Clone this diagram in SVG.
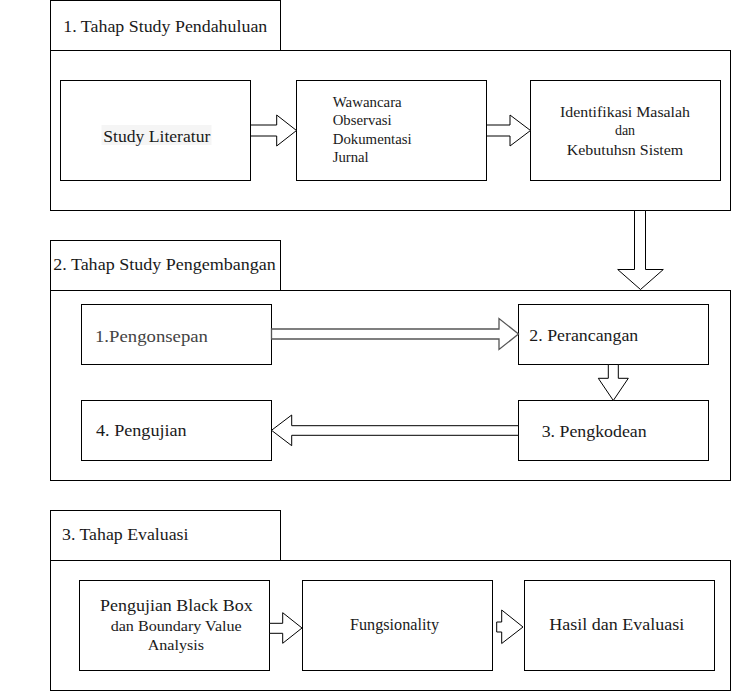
<svg xmlns="http://www.w3.org/2000/svg" width="731" height="691" viewBox="0 0 731 691">
<style>
.box{fill:#fff;stroke:#000;stroke-width:1}
.arr{fill:#fff;stroke:#000;stroke-width:1;stroke-linejoin:miter}
.t{fill:#1a1a1a}
.h{font-size:16.5px}
.m{font-size:16.5px}
.s{font-size:14px}
</style>
<rect x="0" y="0" width="731" height="691" fill="#fff"/>
<g font-family="'Liberation Serif', 'Times New Roman', serif">
<g id="stage1">
  <rect class="box" x="50.5" y="0.5" width="230" height="50"/>
  <rect class="box" x="50.5" y="50.5" width="680" height="160"/>
  <text class="t h" x="63.3" y="31.7" textLength="204" lengthAdjust="spacingAndGlyphs">1. Tahap Study Pendahuluan</text>
</g>
<g id="study-literatur">
  <rect class="box" x="60.5" y="80.5" width="190" height="100"/>
  <rect x="101.5" y="125" width="110" height="20" fill="#f5f5f5"/>
  <text class="t m" x="103.3" y="141.7" textLength="107" lengthAdjust="spacingAndGlyphs">Study Literatur</text>
</g>
<g id="wawancara">
  <rect class="box" x="296.5" y="80.5" width="190" height="100"/>
  <text class="t s" x="332.7" y="107.3" textLength="69" lengthAdjust="spacingAndGlyphs">Wawancara</text>
  <text class="t s" x="332.7" y="125" textLength="59" lengthAdjust="spacingAndGlyphs">Observasi</text>
  <text class="t s" x="332.7" y="143.5" textLength="79" lengthAdjust="spacingAndGlyphs">Dokumentasi</text>
  <text class="t s" x="332.7" y="161.5" textLength="36" lengthAdjust="spacingAndGlyphs">Jurnal</text>
</g>
<g id="identifikasi">
  <rect class="box" x="530.5" y="80.5" width="190" height="100"/>
  <text class="t s" x="560" y="116.7" textLength="130" lengthAdjust="spacingAndGlyphs">Identifikasi Masalah</text>
  <text class="t s" x="625" y="135" text-anchor="middle">dan</text>
  <text class="t s" x="566.7" y="155" textLength="116.6" lengthAdjust="spacingAndGlyphs">Kebutuhsn Sistem</text>
</g>
<g id="stage2">
  <rect class="box" x="50.5" y="240.5" width="230" height="50"/>
  <rect class="box" x="50.5" y="290.5" width="680" height="190"/>
  <text class="t h" x="53.2" y="270" textLength="222.6" lengthAdjust="spacingAndGlyphs">2. Tahap Study Pengembangan</text>
</g>
<g id="pengonsepan">
  <rect class="box" x="81.5" y="304.5" width="190" height="60"/>
  <text class="t m" x="95" y="342" textLength="113" lengthAdjust="spacingAndGlyphs" style="fill:#444">1.Pengonsepan</text>
</g>
<g id="perancangan">
  <rect class="box" x="518.5" y="304.5" width="190" height="60"/>
  <text class="t m" x="529.3" y="340.7" textLength="109" lengthAdjust="spacingAndGlyphs">2. Perancangan</text>
</g>
<g id="pengkodean">
  <rect class="box" x="518.5" y="400.5" width="190" height="60"/>
  <text class="t m" x="541.7" y="436.5" textLength="105" lengthAdjust="spacingAndGlyphs">3. Pengkodean</text>
</g>
<g id="pengujian">
  <rect class="box" x="81.5" y="400.5" width="190" height="60"/>
  <text class="t m" x="96" y="435.5" textLength="90.7" lengthAdjust="spacingAndGlyphs">4. Pengujian</text>
</g>
<g id="stage3">
  <rect class="box" x="50.5" y="510.5" width="230" height="50"/>
  <rect class="box" x="50.5" y="560.5" width="680" height="130"/>
  <text class="t h" x="62" y="540" textLength="126.5" lengthAdjust="spacingAndGlyphs">3. Tahap Evaluasi</text>
</g>
<g id="blackbox">
  <rect class="box" x="79.5" y="580.5" width="190" height="90"/>
  <text class="t m" x="100" y="611" textLength="152.7" lengthAdjust="spacingAndGlyphs">Pengujian Black Box</text>
  <text class="t s" x="110.7" y="631" textLength="131" lengthAdjust="spacingAndGlyphs">dan Boundary Value</text>
  <text class="t s" x="147.7" y="650" textLength="56.3" lengthAdjust="spacingAndGlyphs">Analysis</text>
</g>
<g id="fungsionality">
  <rect class="box" x="302.5" y="580.5" width="190" height="90"/>
  <text class="t m" x="350" y="630" textLength="89" lengthAdjust="spacingAndGlyphs">Fungsionality</text>
</g>
<g id="hasil">
  <rect class="box" x="524.5" y="580.5" width="190" height="90"/>
  <text class="t m" x="549.3" y="630" textLength="135" lengthAdjust="spacingAndGlyphs">Hasil dan Evaluasi</text>
</g>
</g>
<g id="connectors">
  <polygon class="arr" points="250.5,125 276.7,125 276.7,115 296.5,130.5 276.7,146 276.7,136 250.5,136"/>
  <polygon class="arr" points="486.5,125 510,125 510,115 530.5,130.5 510,146 510,136 486.5,136"/>
  <polygon class="arr" points="634.5,210.5 645.5,210.5 645.5,269.5 663.3,269.5 640.5,289.5 617.7,269.5 634.5,269.5"/>
  <polygon class="arr" style="stroke:#555;stroke-width:1.3" points="271.5,329 499,329 499,318.5 518.5,334 499,349.5 499,339 271.5,339"/>
  <polygon class="arr" points="608.3,364.5 618.3,364.5 618.3,378.3 628.3,378.3 613.3,400.5 598.3,378.3 608.3,378.3"/>
  <polygon class="arr" points="518.5,425.7 291.7,425.7 291.7,415 271.5,430.3 291.7,445.7 291.7,435.3 518.5,435.3"/>
  <polygon class="arr" points="269.5,623.3 282.7,623.3 282.7,612.7 302,628 282.7,643.3 282.7,633.3 269.5,633.3"/>
  <polygon class="arr" points="496.7,622 501.7,622 501.7,610 523,627 501.7,643.5 501.7,632 496.7,632"/>
</g>
</svg>
